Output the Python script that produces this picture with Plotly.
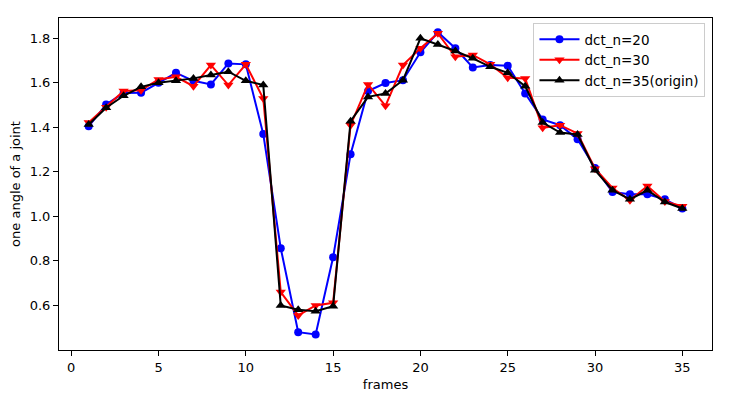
import plotly.graph_objects as go

frames = list(range(1, 36))

dct_20 = [1.404, 1.502, 1.553, 1.555, 1.599, 1.644, 1.608, 1.592, 1.686, 1.682,
          1.369, 0.857, 0.480, 0.470, 0.816, 1.279, 1.562, 1.598, 1.611, 1.736,
          1.826, 1.754, 1.668, 1.679, 1.676, 1.551, 1.435, 1.409, 1.346, 1.217,
          1.109, 1.099, 1.099, 1.076, 1.035]

dct_30 = [1.421, 1.490, 1.562, 1.566, 1.614, 1.626, 1.584, 1.679, 1.589, 1.682,
          1.529, 0.660, 0.555, 0.600, 0.612, 1.409, 1.592, 1.496, 1.679, 1.754,
          1.821, 1.716, 1.724, 1.682, 1.622, 1.619, 1.397, 1.409, 1.372, 1.214,
          1.127, 1.072, 1.136, 1.067, 1.045]

dct_35 = [1.412, 1.487, 1.541, 1.581, 1.599, 1.608, 1.619, 1.634, 1.649, 1.608,
          1.589, 0.600, 0.581, 0.574, 0.596, 1.427, 1.536, 1.551, 1.611, 1.799,
          1.771, 1.742, 1.709, 1.671, 1.644, 1.584, 1.421, 1.376, 1.367, 1.207,
          1.117, 1.076, 1.117, 1.064, 1.035]

SERIES = [
    ("dct_n=20", dct_20, "blue", "circle", 8),
    ("dct_n=30", dct_30, "red", "triangle-down", 9),
    ("dct_n=35(origin)", dct_35, "black", "triangle-up", 9),
]

fig = go.Figure()
for name, vals, color, symbol, size in SERIES:
    fig.add_trace(go.Scatter(
        x=frames, y=vals, name=name, mode="lines+markers",
        line=dict(color=color, width=2),
        marker=dict(color=color, symbol=symbol, size=size),
    ))

axis_style = dict(
    showline=True, linecolor="black", linewidth=1, mirror=True,
    ticks="outside", ticklen=5, tickcolor="black",
    showgrid=False, zeroline=False, automargin=False,
    tickfont=dict(size=13, color="black"),
)

fig.update_xaxes(
    range=[-0.7, 36.7], tickvals=[0, 5, 10, 15, 20, 25, 30, 35],
    title=dict(text="frames", font=dict(size=13, color="black"), standoff=6),
    **axis_style,
)
fig.update_yaxes(
    range=[0.4, 1.89], tickvals=[0.6, 0.8, 1.0, 1.2, 1.4, 1.6, 1.8],
    tickformat=".1f",
    title=dict(text="one angle of a joint", font=dict(size=13, color="black"), standoff=8),
    **axis_style,
)

# page body has an 8px margin, so the figure is sized to fit inside the window
fig.update_layout(
    width=724, height=387,
    margin=dict(l=51, r=20, t=10, b=45),
    plot_bgcolor="white", paper_bgcolor="white",
    font=dict(family="DejaVu Sans", size=13, color="black"),
    legend=dict(
        x=0.99, y=0.985, xanchor="right", yanchor="top",
        bgcolor="white", bordercolor="#cccccc", borderwidth=1,
        font=dict(size=13.5), tracegroupgap=0, itemwidth=40,
    ),
)

fig.write_html("out.html")
